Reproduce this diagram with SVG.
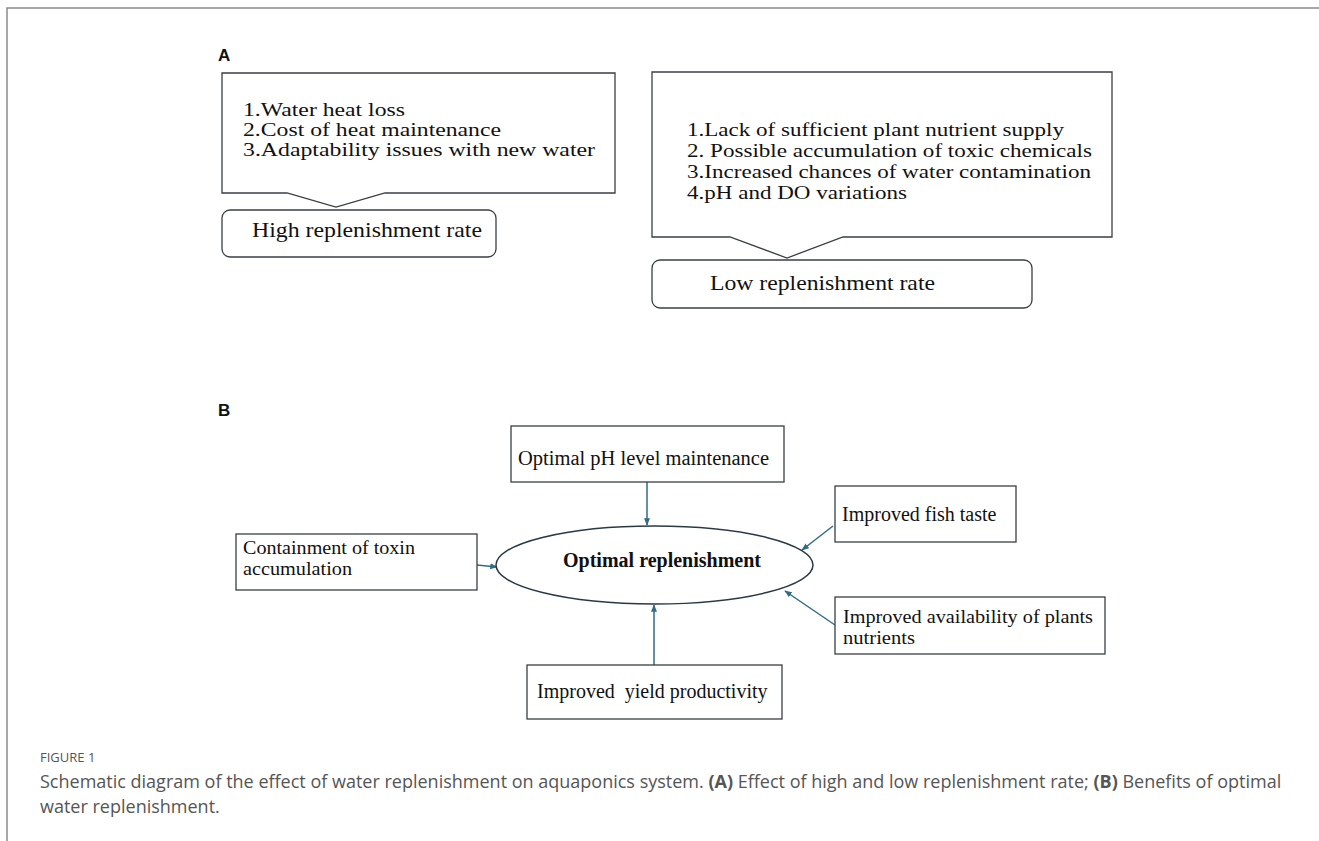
<svg xmlns="http://www.w3.org/2000/svg" width="1319" height="841" viewBox="0 0 1319 841">
<style>
.bx{fill:#fff;stroke:#3a3f44;stroke-width:1.3}
.t{font-family:"Liberation Serif","Times New Roman",serif;fill:#111}
.lbl{font-family:"Liberation Sans",Arial,sans-serif;font-weight:bold;font-size:17px;fill:#111}
.cap{font-family:"Open Sans","Noto Sans",sans-serif;fill:#555}
.cn{stroke:#2f6c86;stroke-width:1.5;fill:none;marker-end:url(#ah)}
</style>
<defs>
<marker id="ah" viewBox="0 0 10 10" refX="9" refY="5" markerWidth="5" markerHeight="5" orient="auto" markerUnits="strokeWidth">
<path d="M0,1 L10,5 L0,9 z" fill="#2f6c86"/>
</marker>
</defs>
<rect width="1319" height="841" fill="#fff"/>
<path d="M7,841 V8 H1319" fill="none" stroke="#8a8a8a" stroke-width="1.5"/>
<text class="lbl" x="218" y="61">A</text>
<text class="lbl" x="218" y="416">B</text>

<g id="high-effects">
<path class="bx" d="M222,73 H615 V193 H385 L336,207 L287,193 H222 Z"/>
<text class="t" font-size="18" x="243" y="116" textLength="162" lengthAdjust="spacingAndGlyphs">1.Water heat loss</text>
<text class="t" font-size="18" x="243" y="136" textLength="258" lengthAdjust="spacingAndGlyphs">2.Cost of heat maintenance</text>
<text class="t" font-size="18" x="243" y="156" textLength="352" lengthAdjust="spacingAndGlyphs">3.Adaptability issues with new water</text>
</g>
<g id="high-rate">
<rect class="bx" x="222" y="210" width="274" height="47" rx="8"/>
<text class="t" font-size="22" x="252" y="237" textLength="230" lengthAdjust="spacingAndGlyphs">High replenishment rate</text>
</g>
<g id="low-effects">
<path class="bx" d="M652,72 H1112 V237 H843 L787,258 L730,237 H652 Z"/>
<text class="t" font-size="18.8" x="687" y="136" textLength="377" lengthAdjust="spacingAndGlyphs">1.Lack of sufficient plant nutrient supply</text>
<text class="t" font-size="18.8" x="687" y="157" textLength="405" lengthAdjust="spacingAndGlyphs">2. Possible accumulation of toxic chemicals</text>
<text class="t" font-size="18.8" x="687" y="178" textLength="404" lengthAdjust="spacingAndGlyphs">3.Increased chances of water contamination</text>
<text class="t" font-size="18.8" x="687" y="199" textLength="220" lengthAdjust="spacingAndGlyphs">4.pH and DO variations</text>
</g>
<g id="low-rate">
<rect class="bx" x="652" y="260" width="380" height="48" rx="8"/>
<text class="t" font-size="22" x="710" y="290" textLength="225" lengthAdjust="spacingAndGlyphs">Low replenishment rate</text>
</g>

<g id="connectors">
<line class="cn" x1="647" y1="482" x2="647" y2="525"/>
<line class="cn" x1="833" y1="526" x2="802" y2="550"/>
<line class="cn" x1="835" y1="625" x2="785" y2="591"/>
<line class="cn" x1="654" y1="665" x2="654" y2="605"/>
<line class="cn" x1="477" y1="565" x2="497" y2="567"/>
</g>

<g id="optimal">
<ellipse cx="654.5" cy="565" rx="158.5" ry="39" fill="#fff" stroke="#2a3a44" stroke-width="1.5"/>
<text class="t" font-size="20" font-weight="bold" x="662" y="567" text-anchor="middle">Optimal replenishment</text>
</g>
<g id="ph">
<rect class="bx" x="511" y="426" width="273" height="56"/>
<text class="t" font-size="20.5" x="518" y="465">Optimal pH level maintenance</text>
</g>
<g id="fish">
<rect class="bx" x="835" y="486" width="181" height="56"/>
<text class="t" font-size="20" x="842" y="521">Improved fish taste</text>
</g>
<g id="nutrients">
<rect class="bx" x="835" y="597" width="270" height="57"/>
<text class="t" font-size="18.5" x="843" y="623" textLength="250" lengthAdjust="spacingAndGlyphs">Improved availability of plants</text>
<text class="t" font-size="18.5" x="843" y="644" textLength="72" lengthAdjust="spacingAndGlyphs">nutrients</text>
</g>
<g id="yield">
<rect class="bx" x="527" y="665" width="255" height="54"/>
<text class="t" font-size="20" x="537" y="698" xml:space="preserve">Improved  yield productivity</text>
</g>
<g id="toxin">
<rect class="bx" x="236" y="534" width="241" height="56"/>
<text class="t" font-size="18.5" x="243" y="554" textLength="172" lengthAdjust="spacingAndGlyphs">Containment of toxin</text>
<text class="t" font-size="18.5" x="243" y="575" textLength="109" lengthAdjust="spacingAndGlyphs">accumulation</text>
</g>

<text class="cap" font-size="13" x="40" y="762">FIGURE 1</text>
<text class="cap" font-size="18" x="40" y="788">Schematic diagram of the effect of water replenishment on aquaponics system. <tspan font-weight="bold">(A)</tspan> Effect of high and low replenishment rate; <tspan font-weight="bold">(B)</tspan> Benefits of optimal</text>
<text class="cap" font-size="18" x="40" y="813">water replenishment.</text>
</svg>
